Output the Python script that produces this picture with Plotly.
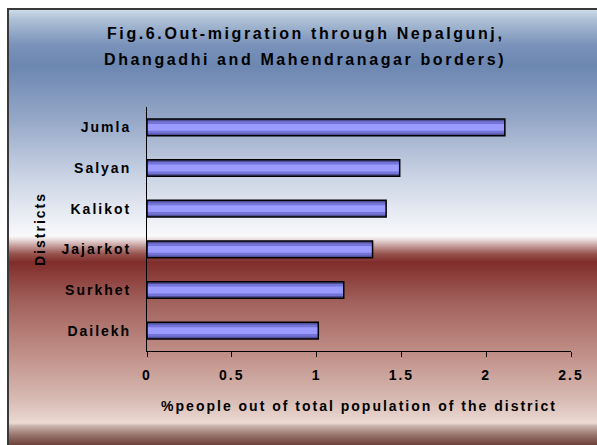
import plotly.graph_objects as go

# Data (bottom to top, as plotted)
districts = ["Dailekh", "Surkhet", "Jajarkot", "Kalikot", "Salyan", "Jumla"]
out_migration_pct = [1.01, 1.16, 1.33, 1.41, 1.49, 2.11]
x_ticks = [0, 0.5, 1, 1.5, 2, 2.5]
x_tick_labels = ["0", "0.5", "1", "1.5", "2", "2.5"]

title_lines = ["Fig.6.Out-migration through Nepalgunj,",
               "Dhangadhi and Mahendranagar borders)"]
x_title = "%people out of total population of the district"
y_title = "Districts"

W, H = 597, 445
ML, MR, MT, MB = 147, 26, 107, 94
PW, PH = W - ML - MR, H - MT - MB

FONT = "Liberation Sans, Arial, sans-serif"


def spaced(text, px):
    return f'<span style="letter-spacing:{px}px">{text}</span>'


def px_x(x):
    return (x - ML) / PW


def px_y(y):
    return (H - MB - y) / PH


# Background gradient stops (pixel y, rgb)
grad_stops = [
    (9, (208, 222, 235)), (20, (172, 191, 213)), (45, (122, 146, 186)),
    (66, (108, 135, 178)), (120, (150, 168, 200)), (180, (205, 214, 230)),
    (236, (249, 249, 251)), (239, (238, 226, 226)), (246, (196, 156, 154)),
    (254, (150, 82, 78)), (262, (128, 45, 43)), (300, (160, 95, 90)),
    (350, (190, 140, 132)), (400, (216, 187, 180)), (423, (235, 218, 211)),
    (426, (202, 180, 174)), (435, (152, 116, 109)), (446, (104, 60, 52)),
]


def grad_color(y):
    for (y0, c0), (y1, c1) in zip(grad_stops, grad_stops[1:]):
        if y0 <= y <= y1:
            t = (y - y0) / (y1 - y0)
            return "rgb(%d,%d,%d)" % tuple(round(a + (b - a) * t) for a, b in zip(c0, c1))
    return "rgb(%d,%d,%d)" % grad_stops[-1][1]


shapes = []
for y in range(9, 446):
    shapes.append(dict(type="rect", xref="paper", yref="paper", layer="below",
                       x0=px_x(8), x1=px_x(600), y0=px_y(y + 1.05), y1=px_y(y),
                       fillcolor=grad_color(y + 0.5), line_width=0))
# chart frame
shapes.append(dict(type="rect", xref="paper", yref="paper", layer="below",
                   x0=px_x(8), x1=px_x(600), y0=px_y(448), y1=px_y(9),
                   fillcolor="rgba(0,0,0,0)", line=dict(color="#3a3a3a", width=2)))

fig = go.Figure()

# cylinder-like shaded bars: layered bars of decreasing thickness
for width, color in [(0.41, "#50509a"), (0.30, "#7474d6"), (0.17, "#9a9aff")]:
    fig.add_trace(go.Bar(x=out_migration_pct, y=districts, orientation="h",
                         width=width, marker=dict(color=color, line_width=0),
                         hoverinfo="skip", showlegend=False))
fig.add_trace(go.Bar(x=out_migration_pct, y=districts, orientation="h",
                     width=0.41,
                     marker=dict(color="rgba(0,0,0,0)", line=dict(color="black", width=1.5)),
                     showlegend=False,
                     hovertemplate="%{y}: %{x}<extra></extra>"))

annotations = [
    dict(text=spaced(line, 2.6), x=px_x(305), y=px_y(yy), xref="paper", yref="paper",
         showarrow=False, xanchor="center", yanchor="middle",
         font=dict(family=FONT, size=16, color="black", weight="bold"))
    for line, yy in zip(title_lines, [33.5, 59.5])
]

fig.update_layout(
    width=W, height=H,
    margin=dict(l=ML, r=MR, t=MT, b=MB),
    paper_bgcolor="white",
    plot_bgcolor="rgba(0,0,0,0)",
    barmode="overlay",
    shapes=shapes,
    annotations=annotations,
    font=dict(family=FONT, size=13, color="black", weight="bold"),
    xaxis=dict(
        range=[0, 2.5], tickvals=x_ticks,
        ticktext=[spaced(t, 2) for t in x_tick_labels],
        showgrid=False, zeroline=False,
        showline=True, linecolor="black", linewidth=1,
        ticks="outside", ticklen=5, tickcolor="black", ticklabelstandoff=6,
        tickfont=dict(size=14),
        title=dict(text=spaced(x_title, 2), standoff=19, font=dict(size=14)),
    ),
    yaxis=dict(
        tickvals=districts,
        ticktext=[spaced(d, 2) for d in districts],
        showgrid=False, zeroline=False,
        showline=True, linecolor="black", linewidth=1,
        ticks="", ticklabelstandoff=12,
        tickfont=dict(size=14),
        title=dict(text=spaced(y_title, 2), standoff=12, font=dict(size=14)),
        range=[-0.5, 5.5],
    ),
)

fig.write_html("out.html", config={"displayModeBar": False},
               post_script="document.body.style.margin='0';")
